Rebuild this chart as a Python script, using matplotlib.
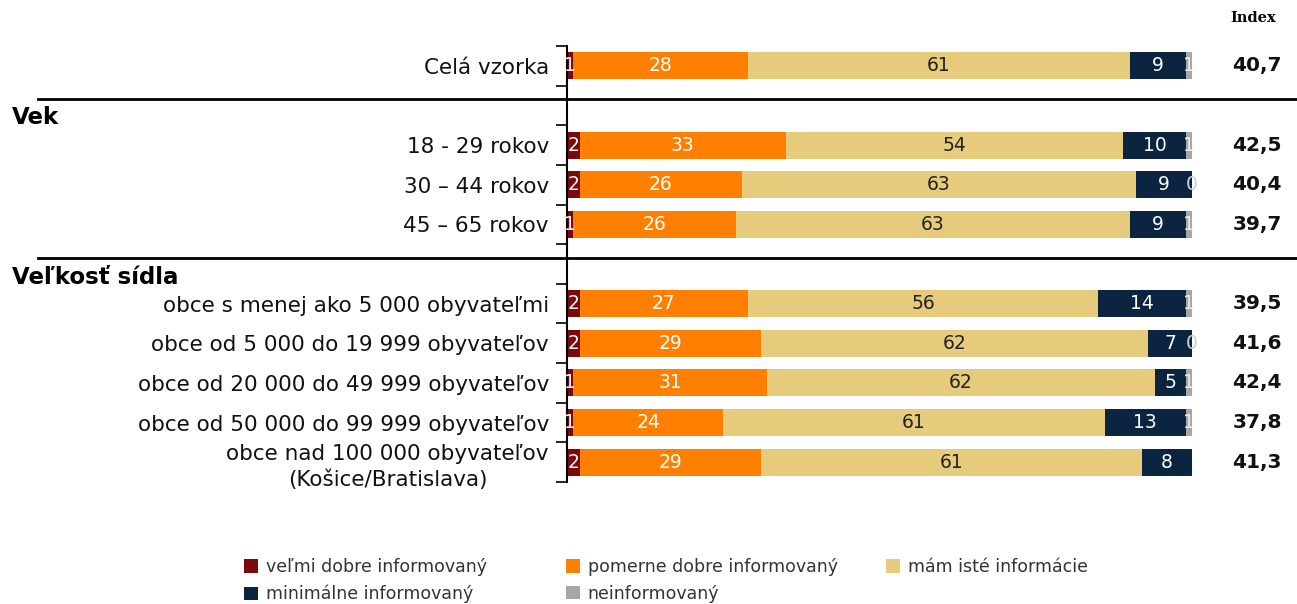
import matplotlib
matplotlib.use("Agg")
import matplotlib.pyplot as plt
from matplotlib.patches import Patch
from matplotlib.lines import Line2D

categories = [
    "Celá vzorka",
    "18 - 29 rokov",
    "30 – 44 rokov",
    "45 – 65 rokov",
    "obce s menej ako 5 000 obyvateľmi",
    "obce od 5 000 do 19 999 obyvateľov",
    "obce od 20 000 do 49 999 obyvateľov",
    "obce od 50 000 do 99 999 obyvateľov",
    "obce nad 100 000 obyvateľov\n(Košice/Bratislava)",
]
slots = [0, 2, 3, 4, 6, 7, 8, 9, 10]

series_names = [
    "veľmi dobre informovaný",
    "pomerne dobre informovaný",
    "mám isté informácie",
    "minimálne informovaný",
    "neinformovaný",
]
velmi_dobre = [1, 2, 2, 1, 2, 2, 1, 1, 2]
pomerne_dobre = [28, 33, 26, 26, 27, 29, 31, 24, 29]
iste_info = [61, 54, 63, 63, 56, 62, 62, 61, 61]
minimalne = [9, 10, 9, 9, 14, 7, 5, 13, 8]
neinformovany = [1, 1, 0, 1, 1, 0, 1, 1, 0]
show_gray_label = [True, True, True, True, True, True, True, True, False]

index_values = ["40,7", "42,5", "40,4", "39,7", "39,5", "41,6", "42,4", "37,8", "41,3"]

colors = ["#7A0A0A", "#FF7F00", "#E6CB7D", "#0B2540", "#A6A6A6"]
text_colors = ["#F0F0FF", "white", "#222222", "white", "#E8E8E8"]

W, H = 1297, 604
fig = plt.figure(figsize=(W / 100, H / 100), dpi=100)
ax = fig.add_axes([567 / W, 1 - 482 / H, (1192 - 567) / W, (482 - 46) / H])

data = [velmi_dobre, pomerne_dobre, iste_info, minimalne, neinformovany]
left = [0] * len(categories)
for si, (vals, col) in enumerate(zip(data, colors)):
    bars = ax.barh(slots, vals, left=left, height=0.68, color=col,
                   edgecolor="none")
    for i, b in enumerate(bars):
        if si == 4 and not show_gray_label[i]:
            continue
        cx = b.get_x() + b.get_width() / 2
        tc = text_colors[si]
        if si == 4 and vals[i] == 0:
            tc = "#C8D0DC"
        ax.text(cx, slots[i], str(vals[i]), ha="center", va="center",
                fontsize=13.5, color=tc)
    left = [l + v for l, v in zip(left, vals)]

ax.set_xlim(0, 100)
ax.set_ylim(10.5, -0.5)
ax.set_yticks(slots)
ax.set_yticklabels(categories, fontsize=15.5, color="#111111",
                   multialignment="center", linespacing=1.35)
ax.set_yticks([i - 0.5 for i in range(12)], minor=True)
ax.tick_params(axis="y", which="major", length=0, pad=13)
ax.tick_params(axis="y", which="minor", length=8, width=1.2, color="black")
ax.set_xticks([])
for s in ["top", "right", "bottom"]:
    ax.spines[s].set_visible(False)
ax.spines["left"].set_linewidth(1.5)

# Index column
fig.text(1253 / W, 1 - 18 / H, "Index", ha="center", va="center",
         fontsize=10.5, fontweight="bold", family="DejaVu Serif")
for i, v in enumerate(index_values):
    ax.text(1.0 + (1257 - 1192) / (1192 - 567), slots[i], v,
            transform=ax.get_yaxis_transform(), ha="center", va="center",
            fontsize=14.5, fontweight="bold", color="#111111")

# Group headers and separators
for y_line in [99, 258]:
    fig.add_artist(Line2D([38 / W, 1.0], [1 - y_line / H, 1 - y_line / H],
                          color="black", lw=2, transform=fig.transFigure))
fig.text(12 / W, 1 - 118 / H, "Vek", ha="left", va="center",
         fontsize=16.5, fontweight="bold")
fig.text(12 / W, 1 - 277 / H, "Veľkosť sídla", ha="left", va="center",
         fontsize=16.5, fontweight="bold")

# Legend in three columns
handles = [Patch(facecolor=c, edgecolor="none") for c in colors]
columns = [([0, 3], 244), ([1, 4], 566), ([2], 886)]
for idxs, xpx in columns:
    leg = fig.legend([handles[k] for k in idxs], [series_names[k] for k in idxs],
                     loc="upper left", bbox_to_anchor=(xpx / W, 1 - 558 / H),
                     frameon=False, fontsize=12.5, handlelength=0.8,
                     handleheight=0.8, handletextpad=0.45, labelspacing=0.5,
                     borderaxespad=0, borderpad=0)
    for t in leg.get_texts():
        t.set_color("#333333")

fig.savefig("out.png", dpi=100)
